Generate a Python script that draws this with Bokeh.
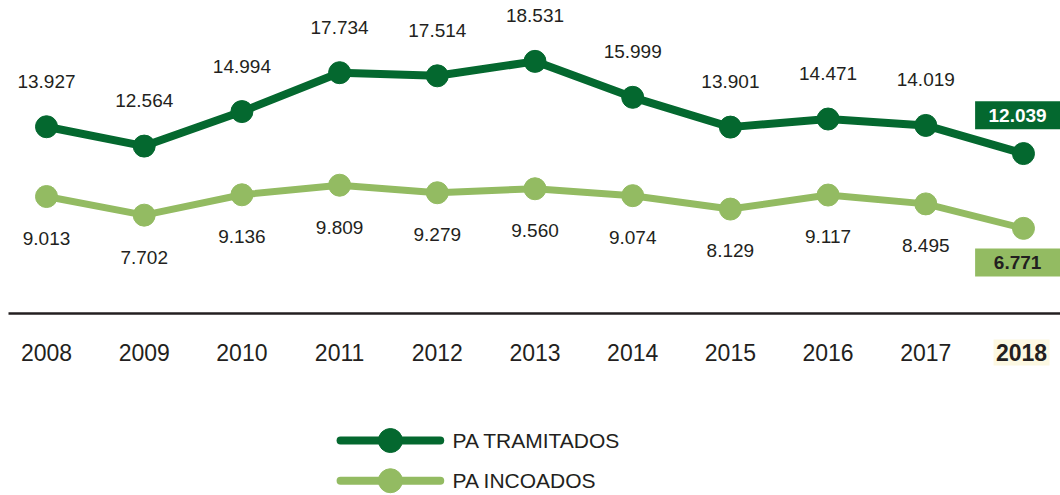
from bokeh.plotting import figure
from bokeh.core.properties import value
from bokeh.embed import file_html
from bokeh.resources import INLINE

years = ["2008", "2009", "2010", "2011", "2012", "2013", "2014", "2015", "2016", "2017", "2018"]
tramitados = [13.927, 12.564, 14.994, 17.734, 17.514, 18.531, 15.999, 13.901, 14.471, 14.019, 12.039]
incoados = [9.013, 7.702, 9.136, 9.809, 9.279, 9.560, 9.074, 8.129, 9.117, 8.495, 6.771]
legend_labels = ["PA TRAMITADOS", "PA INCOADOS"]

DARK = "#04682f"
LIGHT = "#93bb62"
TXT = "#231f20"
FONT = value("Liberation Sans")

W, H = 1060, 495
p = figure(width=W, height=H, output_backend="svg", toolbar_location=None,
           x_range=(-0.471, 10.379), y_range=(-12.04, 22.817),
           min_border=0, outline_line_color=None, background_fill_color="white")
p.axis.visible = False
p.grid.visible = False

xs = list(range(len(years)))
n = len(years)

# axis line
p.segment(x0=[-0.389], y0=[0.775], x1=[10.5], y1=[0.775], line_color=TXT, line_width=2.5)

# lines
p.line(xs, tramitados, line_color=DARK, line_width=8)
p.scatter(xs, tramitados, size=22, fill_color=DARK, line_color=DARK)
p.line(xs, incoados, line_color=LIGHT, line_width=7)
p.scatter(xs, incoados, size=22, fill_color=LIGHT, line_color=LIGHT)

# value labels (all but last)
fmt = lambda v: f"{v:.3f}"
p.text(xs[:-1], [v + 3.2 for v in tramitados[:-1]], text=[fmt(v) for v in tramitados[:-1]],
       text_align="center", text_baseline="middle", text_font=FONT, text_font_size="19px",
       text_color=TXT)
p.text(xs[:-1], [v - 2.95 for v in incoados[:-1]], text=[fmt(v) for v in incoados[:-1]],
       text_align="center", text_baseline="middle", text_font=FONT, text_font_size="19px",
       text_color=TXT)

# last value boxes
lx = xs[-1] - 0.06
p.rect([lx], [tramitados[-1] + 2.7], width=85, height=28, width_units="screen",
       height_units="screen", fill_color=DARK, line_color=None)
p.text([lx], [tramitados[-1] + 2.7], text=[fmt(tramitados[-1])], text_align="center",
       text_baseline="middle", text_font=FONT, text_font_size="19px", text_font_style="bold",
       text_color="white")
p.rect([lx], [incoados[-1] - 2.4], width=85, height=28, width_units="screen",
       height_units="screen", fill_color=LIGHT, line_color=None)
p.text([lx], [incoados[-1] - 2.4], text=[fmt(incoados[-1])], text_align="center",
       text_baseline="middle", text_font=FONT, text_font_size="19px", text_font_style="bold",
       text_color=TXT)

# year labels
ylab = -1.97
p.rect([xs[-1] - 0.02], [ylab], width=56, height=26, width_units="screen",
       height_units="screen", fill_color="#fcf8e2", line_color=None)
p.text(xs[:-1], [ylab] * (n - 1), text=years[:-1], text_align="center", text_baseline="middle",
       text_font=FONT, text_font_size="23px", text_color=TXT)
p.text([xs[-1] - 0.02], [ylab], text=[years[-1]], text_align="center", text_baseline="middle",
       text_font=FONT, text_font_size="23px", text_font_style="bold", text_color=TXT)

# legend
leg_y = [-8.17, -11.0]
for yy, col, lab in zip(leg_y, [DARK, LIGHT], legend_labels):
    p.line([3.01, 4.03], [yy, yy], line_color=col, line_width=8, line_cap="round")
    p.scatter([3.52], [yy], size=24, fill_color=col, line_color=col)
    p.text([4.155], [yy], text=[lab], text_align="left", text_baseline="middle",
           text_font=FONT, text_font_size="21px", text_color=TXT)

open("out.html", "w").write(file_html(p, INLINE))
